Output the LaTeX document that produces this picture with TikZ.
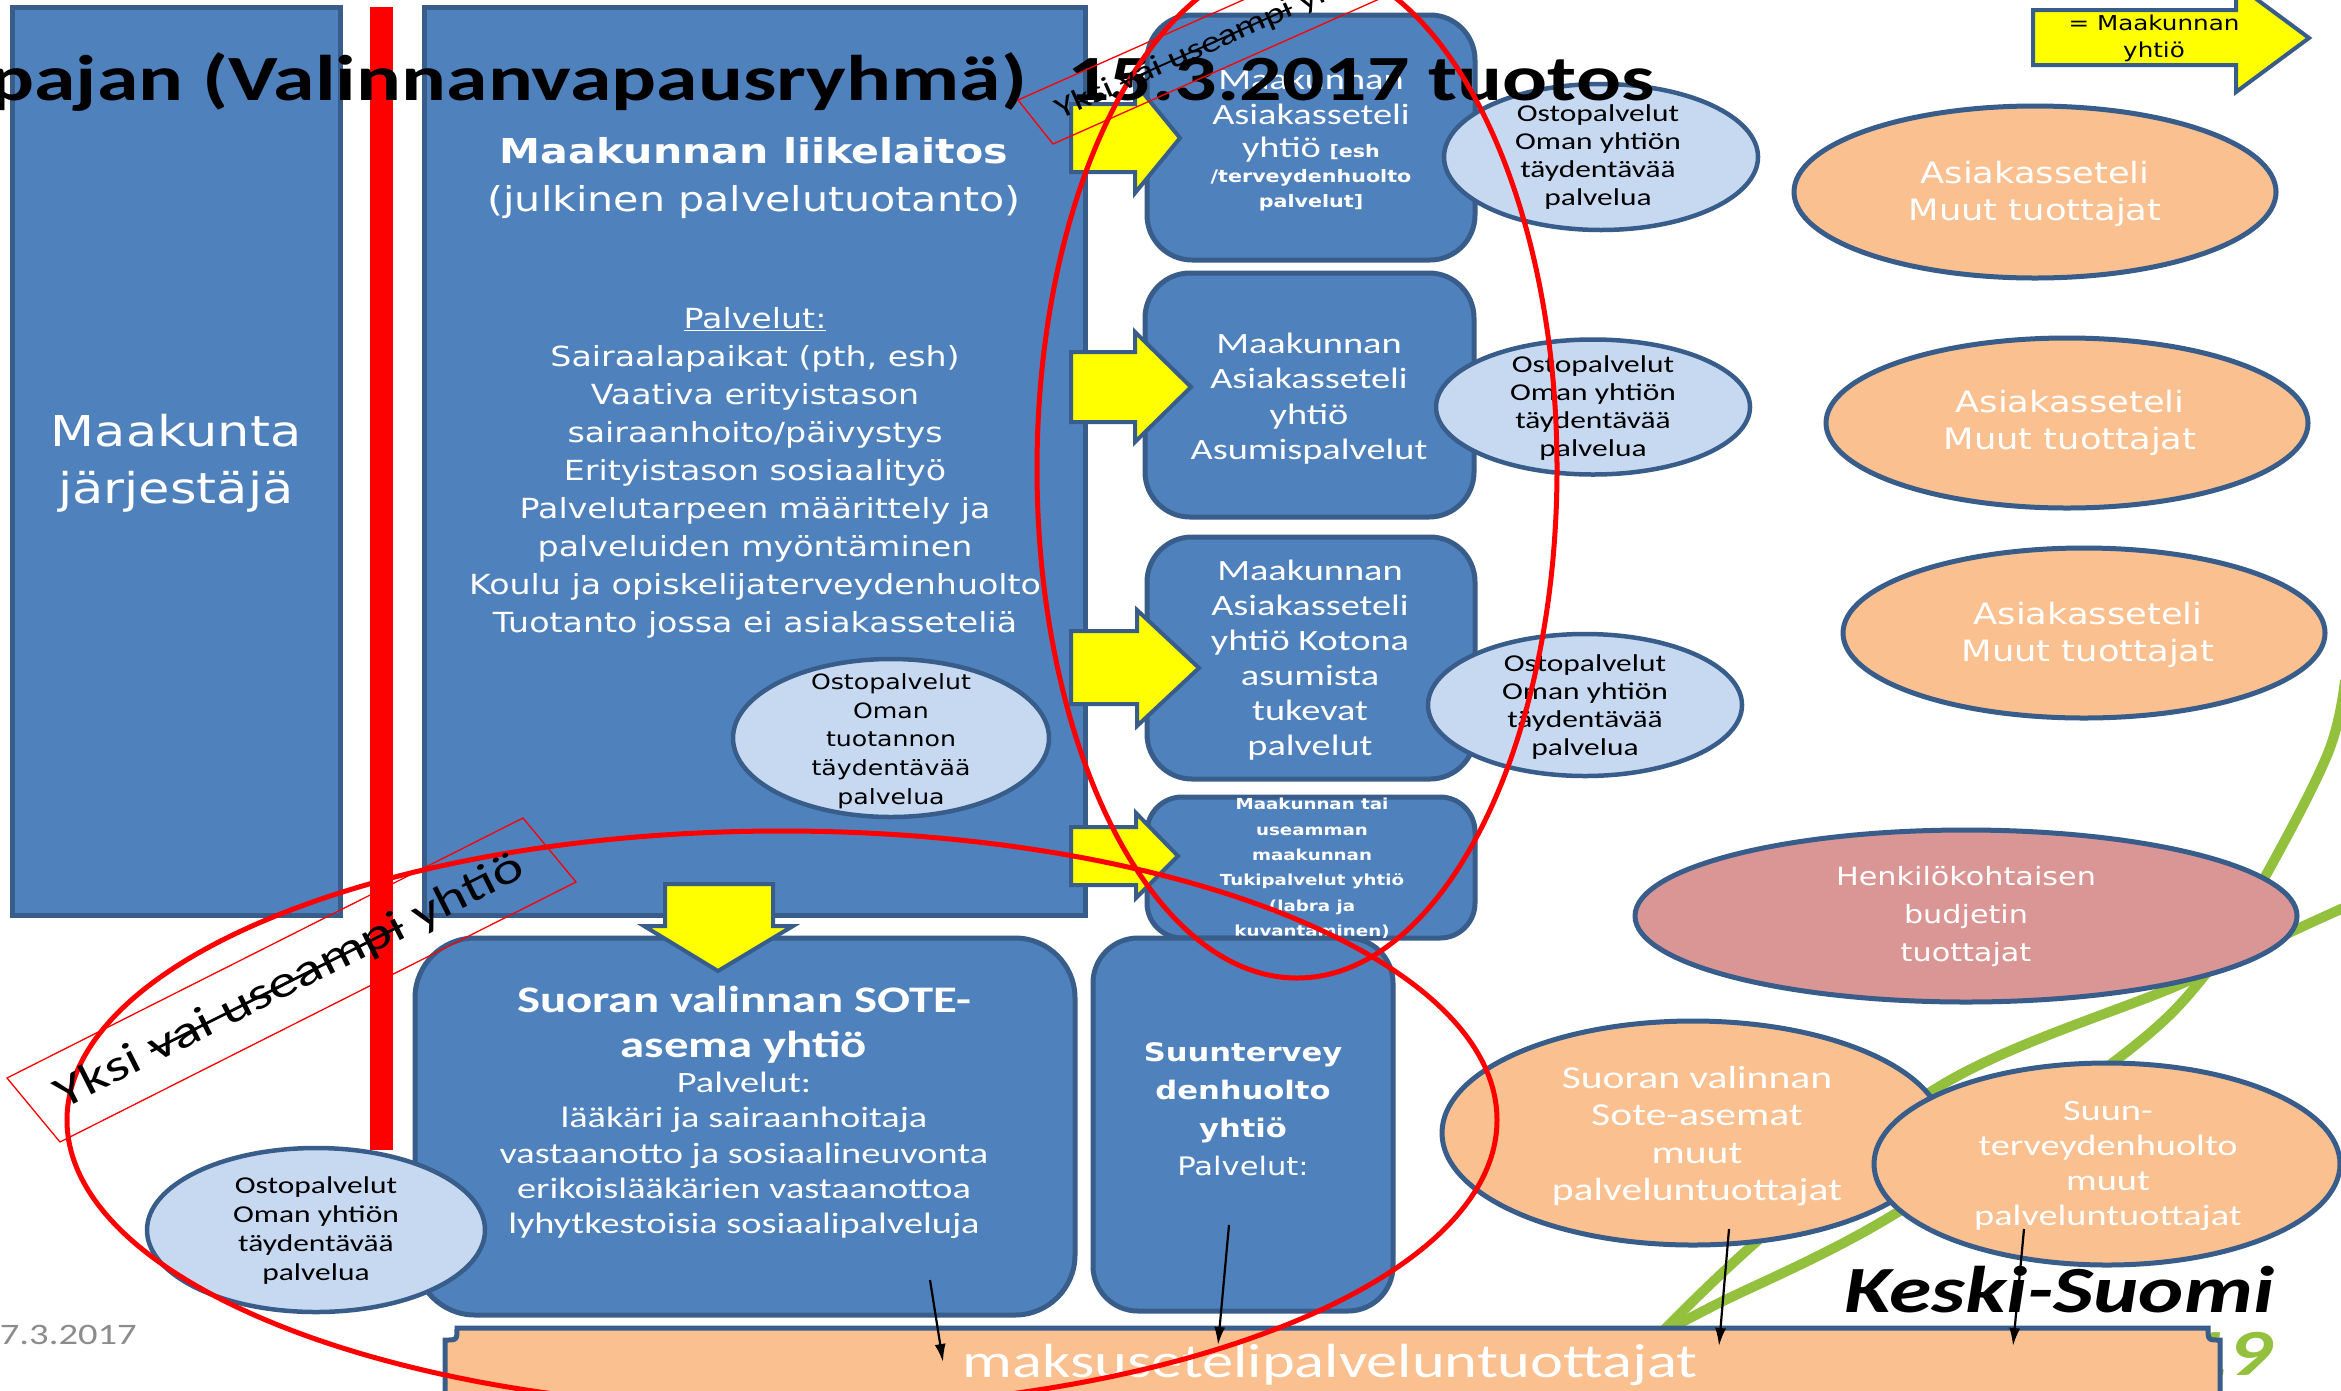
\documentclass[tikz,border=0pt]{standalone}
\usepackage{fontspec}
\usetikzlibrary{shapes.geometric,arrows.meta}
\newfontfamily\ftah[FakeStretch=1.2]{DejaVu Sans}
\newfontfamily\fcal[FakeStretch=1.3]{Carlito}
\newcommand\fsz[2]{\fontsize{#1}{#2}\selectfont}
\newsavebox\strkbox
\newcommand\strk[1]{\sbox\strkbox{#1}\rlap{\raisebox{0.25em}{\rule{\wd\strkbox}{0.06em}}}\usebox\strkbox}
\definecolor{boxblue}{HTML}{4F81BD}
\definecolor{edgeblue}{HTML}{385D8A}
\definecolor{lblue}{HTML}{C6D9F1}
\definecolor{orng}{HTML}{FAC090}
\definecolor{henkpink}{HTML}{D99694}
\definecolor{kgreen}{HTML}{93C13E}
\definecolor{dategray}{HTML}{8C8C8C}
\definecolor{yel}{HTML}{FFFF00}
\begin{document}
\begin{tikzpicture}[x=1pt,y=-1pt,
  bluebox/.style={draw=edgeblue,fill=boxblue,line width=5pt,inner sep=0pt},
  rbox/.style={bluebox,rounded corners=#1},
  lbell/.style={ellipse,draw=edgeblue,fill=lblue,line width=4.5pt,inner sep=0pt},
  orell/.style={ellipse,draw=edgeblue,fill=orng,line width=5pt,inner sep=0pt},
  wtxt/.style={text=white,align=center,inner sep=0pt},
  btxt/.style={text=black,align=center,inner sep=0pt},
  yarr/.style={draw=edgeblue,fill=yel,line width=4pt,line join=miter},
  redline/.style={draw=red,line width=5pt},
  redthin/.style={draw=red,line width=1.3pt},
  thinarr/.style={-{Latex[length=18pt,width=11pt]},line width=2.2pt,black},
  greenline/.style={draw=kgreen,line width=10pt}]
\fill[white] (0,0) rectangle (2341,1390);
\useasboundingbox (0,0) rectangle (2341,1390);

% green logo lines
\draw[greenline] plot[smooth,tension=0.6] coordinates {(1664,1330) (1756,1242) (1940,1086) (2181,984) (2295,930) (2350,905)};
\draw[greenline] plot[smooth,tension=0.6] coordinates {(1668,1330) (1713,1306) (1893,1215) (2115,1061) (2205,975) (2266,875) (2328,753) (2345,680)};

% left box
\node[bluebox,minimum width=328pt,minimum height=908pt] (lbox) at (176,461) {};
\node[wtxt,font={\ftah\fsz{42.5}{57}}] (lboxt) at (176,463) {Maakunta\\järjestäjä};

% red bar
\fill[red] (370,7) rectangle (393,1150);

% big box
\node[bluebox,minimum width=661pt,minimum height=908pt] (big) at (754.5,461) {};
\node[wtxt,font={\ftah\fsz{34.3}{48}}] (bigt) at (754,178) {\textbf{Maakunnan liikelaitos}\\(julkinen palvelutuotanto)};
\node[wtxt,font={\ftah\fsz{27.7}{38}}] (pal) at (755,473) {\underline{Palvelut:}\\Sairaalapaikat (pth, esh)\\Vaativa erityistason\\sairaanhoito/päivystys\\Erityistason sosiaalityö\\Palvelutarpeen määrittely ja\\palveluiden myöntäminen\\Koulu ja opiskelijaterveydenhuolto\\Tuotanto jossa ei asiakasseteliä};
\node[lbell,minimum width=316pt,minimum height=158pt] (inell) at (891,738) {};
\node[btxt,font={\ftah\fsz{21}{28.6}}] (inellt) at (891,741) {Ostopalvelut\\Oman\\tuotannon\\täydentävää\\palvelua};

% column boxes
\node[rbox=45pt,minimum width=328pt,minimum height=245pt] (bA) at (1311,137.5) {};
\node[wtxt,font={\fcal\fsz{29.5}{35}},anchor=base] (bA1) at (1311,89) {Maakunnan};
\node[wtxt,font={\fcal\fsz{29.5}{35}},anchor=base] (bA2) at (1311,124) {Asiakasseteli};
\node[wtxt,font={\fcal\fsz{29.5}{35}},anchor=base] (bA3) at (1311,157) {yhtiö {\ftah\bfseries\fsz{17.2}{20}[esh}};
\node[wtxt,font={\ftah\bfseries\fsz{17.2}{20}},anchor=base] (bA4) at (1311,182) {/terveydenhuolto};
\node[wtxt,font={\ftah\bfseries\fsz{17.2}{20}},anchor=base] (bA5) at (1311,207) {palvelut]};

\node[rbox=45pt,minimum width=329pt,minimum height=244pt] (bB) at (1309.5,395) {};
\node[wtxt,font={\fcal\fsz{29.5}{35.5}}] (bBt) at (1309,398.5) {Maakunnan\\Asiakasseteli\\yhtiö\\Asumispalvelut};

\node[rbox=45pt,minimum width=328pt,minimum height=242pt] (bC) at (1311,658) {};
\node[wtxt,font={\fcal\fsz{29.5}{35}}] (bCt) at (1310,660.5) {Maakunnan\\Asiakasseteli\\yhtiö Kotona\\asumista\\tukevat\\palvelut};

\node[rbox=35pt,minimum width=328pt,minimum height=141pt] (bD) at (1311,867.5) {};
\node[wtxt,font={\ftah\bfseries\fsz{15.2}{25.4}}] (bDt) at (1312,868.5) {Maakunnan tai\\useamman\\maakunnan\\Tukipalvelut yhtiö\\(labra ja\\kuvantaminen)};

% yellow arrows
\draw[yarr] (1071,104) -- (1135,104) -- (1135,83) -- (1180,138) -- (1135,193) -- (1135,172) -- (1071,172) -- cycle;
\draw[yarr] (1071,352) -- (1135,352) -- (1135,332) -- (1191,387) -- (1135,442) -- (1135,422) -- (1071,422) -- cycle;
\draw[yarr] (1071,631) -- (1137,631) -- (1137,610) -- (1199,668) -- (1137,726) -- (1137,704) -- (1071,704) -- cycle;
\draw[yarr] (1071,827) -- (1136,827) -- (1136,813) -- (1178,856) -- (1136,898) -- (1136,885) -- (1071,885) -- cycle;

% light ellipses right of column
\node[lbell,minimum width=314pt,minimum height=146pt] (e1) at (1601,157) {};
\node[btxt,font={\fcal\fsz{24.2}{28}}] (e1t) at (1598,157.5) {Ostopalvelut\\Oman yhtiön\\täydentävää\\palvelua};
\node[lbell,minimum width=314pt,minimum height=135pt] (e2) at (1593,407) {};
\node[btxt,font={\fcal\fsz{24.2}{28}}] (e2t) at (1593,408.5) {Ostopalvelut\\Oman yhtiön\\täydentävää\\palvelua};
\node[lbell,minimum width=314pt,minimum height=142pt] (e3) at (1585,705) {};
\node[btxt,font={\fcal\fsz{24.2}{28}}] (e3t) at (1585,707) {Ostopalvelut\\Oman yhtiön\\täydentävää\\palvelua};

% orange ellipses
\node[orell,minimum width=482pt,minimum height=172pt] (o1) at (2035,192) {};
\node[wtxt,font={\ftah\fsz{29.4}{37}}] (o1t) at (2035,193.5) {Asiakasseteli\\Muut tuottajat};
\node[orell,minimum width=482pt,minimum height=170pt] (o2) at (2067,423) {};
\node[wtxt,font={\ftah\fsz{29.4}{37}}] (o2t) at (2070,422.5) {Asiakasseteli\\Muut tuottajat};
\node[orell,minimum width=482pt,minimum height=170pt] (o3) at (2084,633) {};
\node[wtxt,font={\ftah\fsz{29.4}{37}}] (o3t) at (2088,635) {Asiakasseteli\\Muut tuottajat};
\node[ellipse,draw=edgeblue,fill=henkpink,line width=5pt,inner sep=0pt,minimum width=662pt,minimum height=172pt] (henk) at (1966,916) {};
\node[wtxt,font={\ftah\fsz{25.2}{38}}] (henkt) at (1966,917) {Henkilökohtaisen\\budjetin\\tuottajat};

% SOTE box
\node[rbox=60pt,minimum width=660pt,minimum height=377pt] (sote) at (745,1126.5) {};
\node[wtxt,font={\fcal\bfseries\fsz{37.5}{45}}] (sote1) at (744,1024.5) {Suoran valinnan SOTE-\\asema yhtiö};
\node[wtxt,font={\fcal\fsz{29.5}{35.25}}] (sote2) at (744,1155.5) {Palvelut:\\lääkäri ja sairaanhoitaja\\vastaanotto ja sosiaalineuvonta\\erikoislääkärien vastaanottoa\\lyhytkestoisia sosiaalipalveluja};

% Suuntervey box
\node[rbox=45pt,minimum width=300pt,minimum height=373pt] (suu) at (1243,1124.5) {};
\node[wtxt,font={\ftah\fsz{25.5}{38}}] (suut) at (1243,1109.5) {\textbf{Suuntervey}\\\textbf{denhuolto}\\\textbf{yhtiö}\\Palvelut:};

% down arrow
\draw[yarr] (665,884) -- (773,884) -- (773,926) -- (793,926) -- (718,971) -- (644,926) -- (665,926) -- cycle;

% bottom-left ellipse
\node[lbell,minimum width=338pt,minimum height=164pt] (ble) at (316,1230) {};
\node[btxt,font={\fcal\fsz{24.2}{29}}] (blet) at (316,1231) {Ostopalvelut\\Oman yhtiön\\täydentävää\\palvelua};

% lower orange ellipses
\node[orell,minimum width=502pt,minimum height=224pt] (sve) at (1693,1133) {};
\node[wtxt,font={\fcal\fsz{32}{37.3}}] (svet) at (1697,1136) {Suoran valinnan\\Sote-asemat\\muut\\palveluntuottajat};
\node[orell,minimum width=466pt,minimum height=202pt] (sue) at (2107,1164) {};
\node[wtxt,font={\fcal\fsz{29.5}{35}}] (suet) at (2108,1166) {Suun-\\terveydenhuolto\\muut\\palveluntuottajat};

% logo 19 and bar
\node[anchor=base east,inner sep=0pt,text=kgreen,font={\fcal\bfseries\itshape\fsz{66}{70}}] (n19) at (2272,1375) {19};
\draw[draw=edgeblue,fill=orng,line width=5pt] (457,1328) -- (2208,1328) .. controls (2208,1340) .. (2220,1340) -- (2220,1398) .. controls (2208,1398) .. (2208,1410) -- (457,1410) .. controls (457,1398) .. (445,1398) -- (445,1340) .. controls (457,1340) .. (457,1328) -- cycle;
\node[wtxt,font={\fcal\fsz{48}{52}},anchor=base] (bar) at (1330,1377) {maksusetelipalveluntuottajat};

\node[anchor=base west,inner sep=0pt,font={\fcal\bfseries\itshape\fsz{66}{70}}] (ks) at (1844,1312) {Keski-Suomi};

% title
\node[anchor=base east,inner sep=0pt,font={\fcal\bfseries\fsz{64.5}{72}}] (t1) at (1027,100) {pajan (Valinnanvapausryhmä)};
\node[anchor=base west,inner sep=0pt,font={\fcal\bfseries\fsz{64.5}{72}}] (t2) at (1067,100) {15.3.2017 tuotos};

% red annotations
\draw[redline] (1297,469) ellipse [x radius=260pt,y radius=509pt];
\draw[redline] (782,1120) ellipse [x radius=715pt,y radius=289pt];
\draw[redthin] (7,1078) -- (523,818) -- (576,882) -- (60,1142) -- cycle;
\node[btxt,rotate=26.7,font={\fcal\fsz{45}{50}}] (yk1) at (290,982) {Yksi \strk{vai useampi} yhtiö};
\draw[redthin] (1018,100) -- (1378,-60) -- (1413,-16) -- (1053,144) -- cycle;
\node[btxt,rotate=24,font={\fcal\fsz{30}{34}}] (yk2) at (1215,42) {Yksi \strk{vai useampi} yhtiö};

% black arrows
\coordinate (a1s) at (930,1280); \coordinate (a1e) at (943,1362);
\coordinate (a2s) at (1229,1225); \coordinate (a2e) at (1218,1345);
\coordinate (a3s) at (1729,1229); \coordinate (a3e) at (1719,1346);
\coordinate (a4s) at (2024,1229); \coordinate (a4e) at (2013,1346);
\draw[thinarr] (a1s) -- (a1e);
\draw[thinarr] (a2s) -- (a2e);
\draw[thinarr] (a3s) -- (a3e);
\draw[thinarr] (a4s) -- (a4e);

% legend
\draw[yarr] (2033,10) -- (2236,10) -- (2236,-16) -- (2309,38) -- (2236,92) -- (2236,65) -- (2033,65) -- cycle;
\node[btxt,font={\ftah\fsz{20.5}{27}}] (leg) at (2154,38.5) {= Maakunnan\\yhtiö};

% date
\node[anchor=base east,inner sep=0pt,text=dategray,font={\fcal\fsz{29.7}{32}}] (date) at (137,1344) {7.3.2017};
\end{tikzpicture}
\end{document}
